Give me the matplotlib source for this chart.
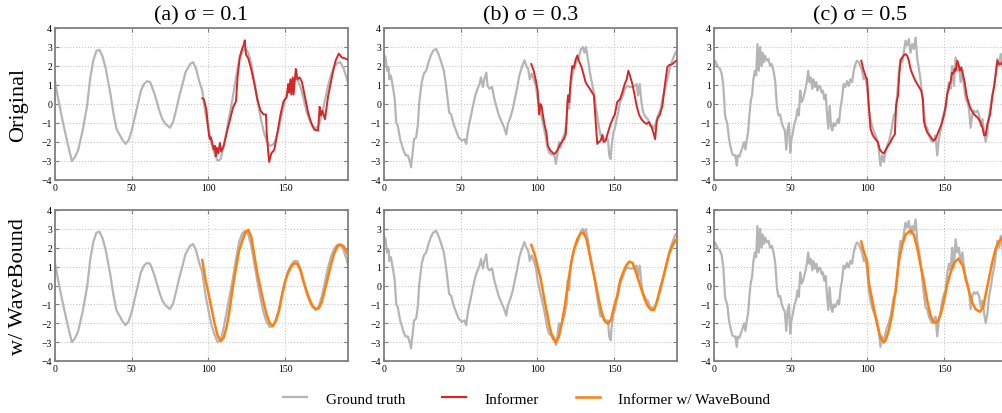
import numpy as np
import matplotlib
matplotlib.use("Agg")
import matplotlib.pyplot as plt
from matplotlib.lines import Line2D

plt.rcParams['font.family'] = ['Liberation Serif', 'DejaVu Serif']

# ---- ground truth, sigma = 0.1
gt_a_x = [0, 2, 5, 8, 11, 13, 15, 18, 21, 23, 25, 27, 29, 31, 33, 36, 38, 40, 42, 44,
          46, 48, 50, 52, 54, 56, 58, 60, 62, 63, 65, 68, 70, 72, 75, 77, 79, 81, 83, 85,
          88, 90, 92, 94, 96, 98, 100, 102, 104, 106, 108, 110, 112, 114, 116, 118, 120,
          122, 124, 126, 128, 130, 132, 134, 136, 138, 140, 142, 144, 146, 148, 150, 152,
          154, 156, 158, 160, 162, 164, 166, 168, 170, 172, 174, 176, 178, 180, 182, 184,
          186, 188, 190, 191]
gt_a_y = [1.2, 0.3, -0.9, -2.0, -3.0, -2.8, -2.45, -1.4, -0.05, 1.4, 2.3, 2.8, 2.85, 2.5,
          1.9, 0.6, -0.45, -1.3, -1.6, -1.9, -2.1, -1.9, -1.4, -0.7, 0.0, 0.7, 1.05, 1.2,
          1.15, 0.95, 0.5, -0.35, -0.8, -1.05, -1.25, -0.95, -0.3, 0.4, 1.0, 1.65, 2.1, 2.2,
          1.85, 1.2, 0.7, -0.45, -1.3, -2.1, -2.6, -3.0, -2.9, -2.2, -1.35, -0.5, 0.4, 1.4,
          2.3, 2.75, 2.9, 2.7, 2.1, 1.15, 0.2, -0.7, -1.45, -1.95, -2.2, -2.15, -1.85, -1.25,
          -0.5, 0.25, 0.75, 1.1, 1.3, 1.3, 0.9, 0.3, -0.4, -0.85, -1.15, -1.3, -1.1, -0.55,
          0.2, 0.95, 1.55, 1.95, 2.15, 2.2, 1.9, 1.4, 1.1]

inf_a_x = [96, 97, 98.7, 99.5, 100.5, 101, 101.5, 102.4, 103.5, 104.3, 104.8, 105.5, 106.5,
           107.5, 108.3, 110, 112, 114, 116, 118, 119, 120.5, 122, 123, 123.7, 124.5, 126,
           128, 130, 132, 134, 136, 137.5, 138, 139, 139.6, 141, 143, 145, 147, 149, 151,
           152, 152.5, 153.5, 154, 155, 155.5, 157, 158, 159.5, 161, 163, 165, 167, 169,
           171.5, 172.5, 173.3, 174.3, 176, 178, 180, 181, 182, 183, 185, 187, 189, 191]
inf_a_y = [0.3, 0.25, -0.3, -1.0, -1.7, -1.85, -1.75, -2.0, -2.4, -2.2, -2.75, -2.3, -2.6,
           -2.05, -2.5, -2.2, -1.5, -0.85, -0.2, 0.15, 1.4, 2.5, 2.9, 3.1, 3.35, 2.6, 2.4,
           1.8, 1.05, 0.2, -0.35, -0.55, -0.55, -1.5, -2.55, -3.05, -2.6, -2.4, -1.5, -0.55,
           0.15, 0.35, 1.05, 0.6, 1.3, 0.5, 1.4, 0.5, 1.85, 1.3, 1.4, 1.15, 0.35, -0.45, -1.0,
           -1.35, -1.4, -0.15, -0.6, -0.35, -0.8, 0.4, 1.2, 1.6, 2.0, 2.3, 2.65, 2.45, 2.4,
           2.33]

wb_a_x = [96, 98, 100, 102, 104, 106, 108, 110, 112, 114, 116, 118, 120, 122, 124, 126, 128,
          130, 132, 134, 136, 138, 140, 142, 144, 146, 148, 150, 152, 154, 156, 158, 160,
          162, 164, 166, 168, 170, 172, 174, 176, 178, 180, 182, 184, 186, 188, 190, 191]
wb_a_y = [1.35, 0.35, -0.4, -1.2, -2.0, -2.65, -2.95, -2.75, -2.15, -1.2, -0.05, 0.95, 1.85,
          2.35, 2.8, 2.95, 2.55, 1.55, 0.6, -0.15, -0.9, -1.55, -2.0, -2.15, -1.85, -1.35,
          -0.5, 0.2, 0.7, 1.0, 1.18, 1.15, 0.8, 0.2, -0.3, -0.75, -1.1, -1.25, -1.2, -0.85,
          -0.2, 0.45, 1.15, 1.7, 2.07, 2.15, 2.1, 1.8, 1.6]

# ---- ground truth, sigma = 0.3
gt_b_x = [0, 1, 2, 3, 3.5, 4.5, 6, 7, 8, 9, 10.5, 11.5, 12.5, 14, 15.5, 17, 17.6, 18.7,
          19.6, 21, 22, 23, 24.6, 26, 27.5, 29, 30.5, 32, 34, 35.5, 37, 39, 40.3, 41.6,
          42.5, 43.8, 45.3, 47, 48.6, 50.8, 52.5, 53.6, 54.7, 56.2, 58, 59.5, 61, 62.3,
          63.2, 64.5, 65.4, 66.7, 67.5, 68.8, 70.4, 72, 73.2, 74.7, 77, 78.4, 79.7, 80.8,
          82.4, 84, 85.2, 86.7, 88.2, 90, 91.5, 92.8, 94, 95, 96.3, 97.6, 99, 100.2, 101.5,
          102.8, 104, 105.2, 106.3, 107.6, 109, 110.2, 111.3, 112, 113, 114, 115, 116.3,
          117.6, 119, 119.8, 120.7, 121.6, 123, 124.2, 125.5, 126.4, 127.7, 128.5, 129.6,
          130.7, 131.6, 133, 134.2, 135.7, 136.8, 138, 139, 140, 141.2, 142.3, 143.4, 144.7,
          146, 146.8, 147.7, 148.4, 149.5, 150.5, 151.6, 152.7, 153.8, 155.3, 157, 158.6,
          160.3, 162, 163.4, 164.7, 165.6, 166.7, 167.8, 169, 170.6, 172, 173.4, 175, 176,
          177, 178.6, 180.4, 182, 183.7, 186, 188, 190, 191]
gt_b_y = [2.6, 2.45, 1.75, 1.9, 1.3, 1.5, 0.8, 0.25, -1.0, -1.15, -1.85, -2.1, -2.4, -2.7,
          -2.7, -3.05, -3.33, -2.55, -1.85, -1.75, -1.15, 0.1, 1.15, 1.6, 1.75, 2.2, 2.55,
          2.8, 2.9, 2.63, 2.28, 1.75, 1.05, 0.18, -0.45, -0.55, -1.05, -1.4, -1.75, -1.93,
          -1.85, -2.1, -1.4, -0.8, -0.1, 0.45, 0.8, 1.05, 1.4, 0.9, 1.3, 1.65, 0.95, 0.8,
          0.9, 0.25, -0.1, -0.55, -1.0, -1.25, -1.6, -1.05, -0.7, -0.25, 0.25, 0.8, 1.5,
          1.95, 2.3, 2.0, 1.85, 1.3, 1.6, 1.3, 0.95, 0.25, -0.25, -0.7, -1.15, -1.65, -2.2,
          -2.55, -2.65, -2.65, -2.8, -3.15, -2.7, -2.0, -2.3, -1.85, -1.6, -1.0, 0.25, -0.25,
          0.95, 1.6, 2.0, 2.2, 2.35, 2.7, 2.9, 3.0, 2.7, 3.0, 2.35, 1.65, 1.05, 0.6, -0.1,
          -0.6, -1.15, -1.65, -1.6, -1.85, -1.85, -1.85, -2.7, -2.9, -2.2, -1.5, -1.3, -0.8,
          -0.45, 0.1, 0.35, 0.8, 0.95, 0.9, 0.9, 0.95, 1.05, 0.45, 1.05, 0.1, -0.45, -0.7,
          -0.8, -1.15, -1.15, -1.3, -1.05, -0.6, -0.25, 0.45, 0.95, 1.8, 2.3, 2.7, 2.8]

inf_b_x = [96, 97.6, 99.1, 100.2, 101.1, 102, 102.7, 103.5, 104.8, 105.9, 106.8, 108.5,
           110.2, 111.3, 112.9, 115, 117.2, 118.5, 119.4, 120, 120.7, 121.6, 122.7, 123.8,
           124.7, 126, 127, 128.5, 129.8, 131.4, 132.9, 134.2, 135.7, 136.8, 137.9, 139,
           140.1, 141.2, 142.3, 143.2, 144.5, 146, 147.7, 149.5, 150.5, 152, 153.8, 155.3,
           156.9, 158.2, 159.3, 160.3, 161.9, 163.4, 164.7, 166.2, 167.8, 169.5, 171.2,
           172.8, 174.3, 175.6, 176.7, 177.8, 178.6, 179.7, 181.5, 183, 184.7, 186, 188,
           190, 191]
inf_b_y = [2.1, 1.75, 1.2, 0.7, -0.55, 0.0, -0.1, -0.55, -1.15, -1.5, -2.2, -2.45, -2.58,
           -2.63, -2.45, -2.1, -1.85, -1.6, -0.2, 0.45, 0.1, 1.15, 2.0, 1.9, 2.28, 2.55, 2.28,
           2.0, 1.65, 1.15, 0.95, 0.8, 0.6, 0.45, -0.8, -2.1, -2.0, -1.93, -1.65, -2.0, -1.93,
           -1.5, -1.05, -0.7, -0.55, 0.1, 0.25, 0.6, 1.05, 1.3, 1.75, 1.5, 1.05, 0.45, -0.1,
           -0.55, -0.8, -0.95, -1.05, -0.95, -1.2, -1.5, -1.85, -0.95, -0.7, -0.6, -0.1, 0.95,
           1.95, 2.05, 2.1, 2.25, 2.3]

wb_b_x = [96, 98, 100, 102, 104, 106, 108, 110, 112, 114, 116, 118, 120, 122, 124, 126, 128,
          130, 132, 134, 136, 138, 140, 142, 144, 146, 148, 150, 152, 154, 156, 158, 160,
          162, 164, 166, 168, 170, 172, 174, 176, 178, 180, 182, 184, 186, 188, 190, 191]
wb_b_y = [2.15, 1.7, 1.05, 0.4, -0.5, -1.35, -2.2, -2.8, -3.02, -2.72, -1.95, -1.0, 0.15,
          1.2, 1.95, 2.45, 2.75, 2.8, 2.45, 1.65, 0.85, 0.1, -0.75, -1.45, -1.9, -2.02, -1.82,
          -1.1, -0.55, 0.28, 0.72, 1.08, 1.27, 1.2, 0.75, 0.25, -0.25, -0.75, -1.1, -1.28,
          -1.3, -0.85, -0.15, 0.4, 1.1, 1.7, 2.1, 2.4, 2.45]

# ---- ground truth, sigma = 0.5
gt_c_x = [0, 0.7, 1.7, 2.8, 3.9, 5, 6.1, 7.2, 7.8, 8.7, 9.8, 10.9, 12, 13.1, 13.9, 14.8,
          15.5, 16.6, 17.4, 18.5, 19.6, 20.5, 21.4, 22.2, 23.1, 24, 24.8, 25.7, 26.6, 27.5,
          28.3, 29.2, 30.1, 30.9, 31.6, 32.5, 33.3, 34.4, 35.5, 36.6, 37.7, 38.8, 39.9, 41,
          42, 43.1, 44.2, 45.3, 46.2, 47.1, 48, 48.9, 49.7, 50.5, 51.4, 52.5, 53.4, 54.5,
          55.3, 56.2, 57.1, 58, 58.8, 59.7, 60.6, 61.4, 62.3, 63.2, 64.1, 64.9, 65.8, 66.7,
          67.5, 68.4, 69.3, 70.2, 71, 71.9, 72.8, 73.6, 74.5, 75.4, 76.3, 77.1, 78, 78.9,
          79.7, 80.6, 81.5, 82.4, 83.4, 84.5, 85.6, 86.7, 87.8, 88.9, 90, 91.1, 92.2, 93.2,
          94.3, 95.4, 96.5, 97.6, 98.7, 99.8, 100.9, 102, 103, 104.1, 105.2, 106.3, 107.4,
          108.5, 109.6, 110.7, 111.7, 112.8, 113.9, 115, 116.1, 117.2, 118.3, 119.4, 120.5,
          121.6, 122.7, 123.7, 124.8, 125.9, 127, 128.1, 129.2, 130.3, 131.4, 132.5, 133.6,
          134.6, 135.7, 136.8, 137.9, 139, 140.1, 141.2, 142.3, 143.4, 144.4, 145.5, 146.6,
          147.7, 148.8, 149.9, 151, 152, 153.1, 154.2, 155.3, 156.4, 157.5, 158.6, 159.7,
          160.8, 161.9, 163, 164.1, 165.2, 166.2, 167.3, 168.4, 169.5, 170.6, 171.7, 172.8,
          173.9, 175, 176.1, 177.1, 178.2, 179.3, 180.4, 181.5, 182.6, 183.7, 184.7, 185.8,
          186.9, 188, 188.9, 190, 191]
gt_c_y = [2.0, 2.28, 2.1, 1.93, 1.85, 1.6, 0.95, -0.6, -0.8, -1.05, -1.85, -2.3, -2.65,
          -2.7, -2.7, -3.25, -2.7, -2.77, -2.55, -2.3, -2.0, -2.4, -1.85, -1.5, -0.55, 0.18,
          0.45, 1.3, 1.75, 1.5, 3.15, 1.75, 3.0, 2.0, 2.7, 2.2, 2.55, 2.28, 2.37, 2.0, 2.1,
          1.75, 1.2, -0.1, -0.6, -0.55, -1.0, -1.25, -1.4, -2.4, -1.3, -1.0, -2.55, -1.85,
          -1.5, -1.0, -0.8, -0.25, -0.6, 0.7, 0.1, 0.25, 0.5, 0.8, 1.2, 1.75, 1.15, 1.4, 0.8,
          1.3, 0.9, 1.15, 0.7, 0.95, 0.9, 0.6, 0.7, 0.25, 0.5, -0.45, -1.3, -0.1, -1.15,
          -1.4, -1.0, -1.15, -1.05, -0.8, -1.0, -0.25, 0.25, 1.05, 0.9, 1.2, 0.95, 1.3, 1.15,
          1.75, 2.1, 2.28, 2.2, 2.0, 1.75, 1.3, 1.4, 0.9, -0.25, -0.8, -1.15, -1.4, -1.65,
          -1.85, -2.4, -3.25, -2.7, -3.05, -2.55, -2.2, -2.0, -1.65, -1.15, -0.6, -0.45, 0.45,
          1.65, 2.37, 2.2, 2.7, 3.33, 3.07, 3.42, 2.7, 3.15, 2.9, 3.5, 2.37, 1.85, 1.3, 0.45,
          -0.45, -1.15, -1.25, -1.65, -1.85, -2.0, -1.93, -1.65, -2.7, -1.85, -1.4, -0.8,
          -0.45, -0.25, 0.6, 1.15, 0.8, 2.0, 0.95, 2.45, 1.75, 2.0, 1.15, 1.75, 0.95, 0.25,
          0.1, -0.25, -1.25, -0.55, -0.35, -0.45, -0.35, -0.55, -1.15, -0.8, -1.5, -2.0,
          -1.5, -0.6, -0.1, 0.5, 0.95, 1.65, 2.37, 2.0, 2.63, 2.0, 1.15, 0.9, 0.7]

inf_c_x = [96, 97.6, 99.1, 99.8, 100.9, 102, 103.5, 105.2, 106.8, 108.1, 109.6, 110.7,
           111.7, 113.5, 115, 116.6, 117.9, 118.7, 119.4, 120, 120.7, 121.6, 122.7, 123.7,
           124.8, 125.9, 127, 128.1, 129.2, 131.4, 133.6, 135.1, 136.2, 136.8, 137.9, 139,
           140.5, 142.3, 143.4, 144.9, 146.6, 148.4, 149.9, 151, 152, 152.7, 153.6, 154.2,
           155.1, 156, 156.9, 157.5, 158.6, 159.7, 160.3, 161.2, 162.1, 163.4, 164.7, 165.8,
           167.3, 169.5, 171.7, 173.4, 175, 176.1, 177, 178.2, 180, 181.5, 182.6, 183.7,
           184.7, 185.8, 186.9, 188.9, 191]
inf_c_y = [2.28, 1.75, 1.4, 1.3, -0.1, -1.3, -1.65, -1.85, -2.0, -2.4, -2.55, -2.6, -2.45,
           -2.2, -2.0, -1.75, -1.6, -0.1, 0.25, 0.45, 1.5, 2.28, 2.45, 2.55, 2.63, 2.55, 2.28,
           1.85, 1.6, 1.2, 0.9, 0.7, 0.25, -0.9, -1.25, -1.5, -1.65, -1.85, -1.93, -1.75,
           -1.4, -1.05, -0.6, -0.1, 0.5, 0.7, 1.05, 1.15, 1.65, 1.6, 1.85, 1.75, 2.28, 2.0,
           1.75, 1.93, 1.6, 1.15, 0.45, 0.1, -0.25, -0.55, -0.7, -0.9, -1.25, -1.65, -1.65,
           -1.05, -0.55, 0.45, 0.9, 1.6, 2.28, 2.1, 2.1, 2.28, 2.3]

wb_c_x = [96, 97, 98.7, 99.8, 100.9, 102.4, 104.1, 106.3, 108.5, 110.2, 111.7, 113.9, 116.1,
          118.3, 120.5, 122.7, 124.8, 127, 128.5, 130.3, 132.5, 134.6, 136.8, 139, 141.2,
          143.4, 145.5, 147.7, 149.9, 152, 154.2, 156.4, 159.3, 161.9, 164.1, 166.2, 168.4,
          170.6, 173.2, 175.4, 177.1, 179.3, 181.5, 183.7, 185.8, 188, 191]
wb_c_y = [2.33, 1.98, 1.54, 1.28, 0.14, -0.47, -1.18, -2.05, -2.75, -2.98, -2.93, -2.4,
          -1.53, -0.3, 1.28, 2.16, 2.68, 2.86, 2.9, 2.68, 1.98, 1.1, 0.23, -0.82, -1.61,
          -1.96, -1.96, -1.53, -0.82, 0.05, 0.67, 1.19, 1.42, 1.1, 0.4, -0.3, -0.91, -1.26,
          -1.39, -1.18, -0.47, 0.4, 1.28, 1.98, 2.33, 2.54, 2.5]

titles = ["(a) σ = 0.1", "(b) σ = 0.3", "(c) σ = 0.5"]
row_labels = ["Original", "w/ WaveBound"]
legend_labels = ["Ground truth", "Informer", "Informer w/ WaveBound"]

gt_x = [gt_a_x, gt_b_x, gt_c_x]
gt_y = [gt_a_y, gt_b_y, gt_c_y]
inf_x = [inf_a_x, inf_b_x, inf_c_x]
inf_y = [inf_a_y, inf_b_y, inf_c_y]
wb_x = [wb_a_x, wb_b_x, wb_c_x]
wb_y = [wb_a_y, wb_b_y, wb_c_y]

c_gt = '#b5b5b5'
c_inf = '#d62728'
c_wb = '#ff7f0e'
c_spine = '#808080'

W, H = 1003, 414
fig = plt.figure(figsize=(W / 100, H / 100), dpi=100)

lefts = [55, 384, 714]
pw = 293
rows = [(29, 181), (211, 362)]

for r, (top, bot) in enumerate(rows):
    for c in range(3):
        ax = fig.add_axes([lefts[c] / W, 1 - bot / H, pw / W, (bot - top) / H])
        ax.plot(gt_x[c], gt_y[c], color=c_gt, lw=1.6, zorder=2)
        if r == 0:
            ax.plot(inf_x[c], inf_y[c], color=c_inf, lw=1.4, zorder=3)
        else:
            ax.plot(wb_x[c], wb_y[c], color=c_wb, lw=1.8, zorder=3)
        ax.set_xlim(0, 191)
        ax.set_ylim(-4, 4)
        ax.set_xticks([0, 50, 100, 150])
        ax.set_yticks(range(-4, 5))
        ax.grid(True, ls=':', color='#c8c8c8', lw=0.8)
        ax.tick_params(direction='in', length=3, width=0.8, color=c_spine,
                       labelsize=7, pad=2, top=True, right=True)
        for s in ax.spines.values():
            s.set_color(c_spine)
            s.set_linewidth(1.3)
        if r == 0:
            ax.set_title(titles[c], fontsize=16, pad=6)
        if c == 0:
            ax.set_ylabel(row_labels[r], fontsize=16, labelpad=10)

handles = [Line2D([], [], color=c_gt, lw=1.6),
           Line2D([], [], color=c_inf, lw=1.6),
           Line2D([], [], color=c_wb, lw=1.8)]
fig.legend(handles, legend_labels, loc='center', bbox_to_anchor=(0.525, 0.034), ncol=3,
           frameon=False, fontsize=11, handlelength=1.6, handletextpad=1.2,
           columnspacing=2.4)

fig.savefig('out.png', dpi=100)
